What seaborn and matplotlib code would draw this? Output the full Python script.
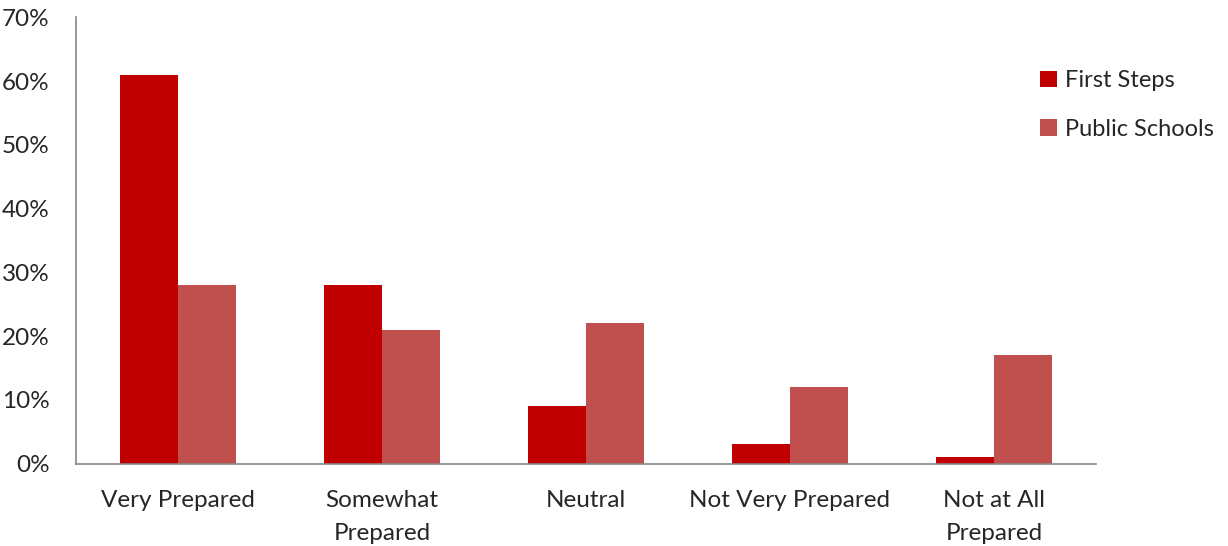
import matplotlib
matplotlib.use("Agg")
import matplotlib.pyplot as plt
import seaborn as sns
import pandas as pd
from matplotlib.ticker import FixedLocator, PercentFormatter

categories = ["Very Prepared", "Somewhat\nPrepared", "Neutral", "Not Very Prepared", "Not at All\nPrepared"]
first_steps = [61, 28, 9, 3, 1]
public_schools = [28, 21, 22, 12, 17]
series_names = ["First Steps", "Public Schools"]
colors = ["#C00000", "#C0504D"]
yticks = [0, 10, 20, 30, 40, 50, 60, 70]

df = pd.DataFrame({
    "category": categories * 2,
    "value": first_steps + public_schools,
    "series": [series_names[0]] * len(categories) + [series_names[1]] * len(categories),
})

sns.set_style("white")
plt.rcParams["font.family"] = ["Lato", "DejaVu Sans"]

fig = plt.figure(figsize=(12.28, 5.46), dpi=100)
ax = fig.add_axes([0.0619, 0.151, 0.8306, 0.817])

sns.barplot(data=df, x="category", y="value", hue="series", order=categories,
            hue_order=series_names, palette=colors, width=0.57, gap=0,
            saturation=1, edgecolor="none", linewidth=0, ax=ax)

axis_color = "#868686"
fs = 17.5
ax.set_xlim(-0.5, len(categories) - 0.5)
ax.set_ylim(0, 70)
ax.set_yticks(yticks)
ax.yaxis.set_major_formatter(PercentFormatter(decimals=0))
ax.set_xlabel("")
ax.set_ylabel("")

# boundary ticks (major, no labels) and centered labels (minor, no tick)
ax.xaxis.set_major_locator(FixedLocator([i - 0.5 for i in range(len(categories) + 1)]))
ax.xaxis.set_major_formatter(plt.NullFormatter())
ax.set_xticks(range(len(categories)), minor=True)
ax.set_xticklabels(categories, minor=True, fontsize=fs, linespacing=1.7, va="top")
ax.tick_params(axis="x", which="major", length=6, width=1.2, color=axis_color, direction="out")
ax.tick_params(axis="x", which="minor", length=0, pad=19)
ax.tick_params(axis="y", which="major", length=7, width=1.2, color=axis_color, direction="out",
               labelsize=fs, pad=12)

for side in ["top", "right"]:
    ax.spines[side].set_visible(False)
for side in ["left", "bottom"]:
    ax.spines[side].set_color(axis_color)
    ax.spines[side].set_linewidth(1.2)

handles, labels = ax.get_legend_handles_labels()
ax.legend(handles, labels, loc="upper left", bbox_to_anchor=(0.847, 0.871),
          bbox_transform=fig.transFigure, frameon=False, fontsize=17,
          handlelength=0.7, handleheight=0.7, handletextpad=0.35, labelspacing=1.15,
          borderaxespad=0, borderpad=0)

fig.savefig("out.png", dpi=100)
